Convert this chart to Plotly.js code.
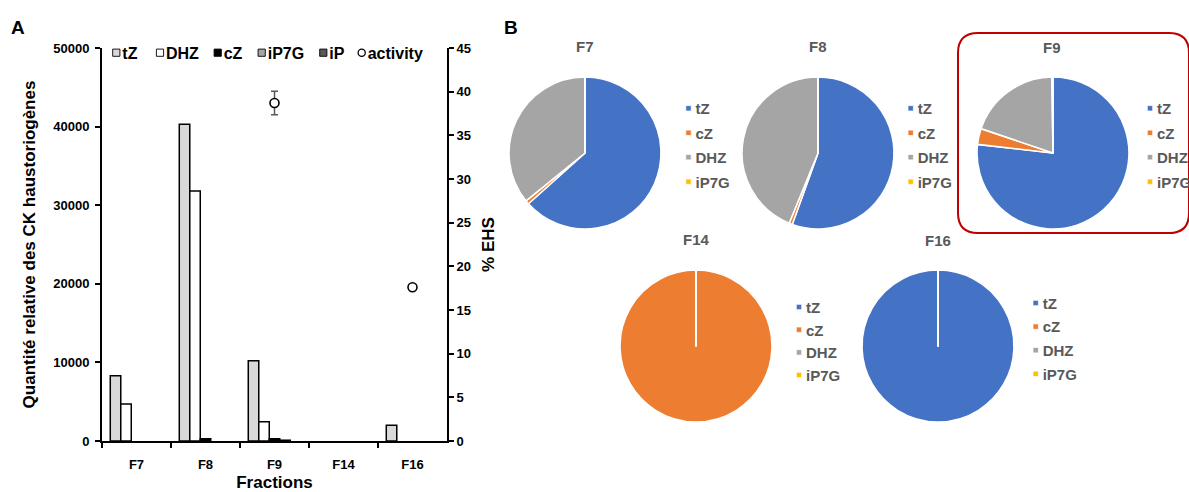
<!DOCTYPE html>
<html><head><meta charset="utf-8">
<script src="https://cdn.plot.ly/plotly-3.0.1.min.js"></script>
<style>html,body{margin:0;padding:0;background:#fff}#chart{width:1189px;height:492px}</style>
</head><body><div id="chart"></div>
<script>
const W = 1189, H = 492;
const FONT = 'Liberation Sans, Arial, sans-serif';

// ---------- data (panel A) ----------
const fractions = ['F7', 'F8', 'F9', 'F14', 'F16'];
const tZ   = [8300, 40300, 10200, 0, 2000];
const DHZ  = [4700, 31800, 2450, 0, 0];
const cZ   = [0, 300, 300, 0, 0];
const iP7G = [0, 0, 100, 0, 0];
const iP   = [0, 0, 0, 0, 0];
const activity    = [null, null, 38.7, null, 17.6];
const activityErr = [null, null, 1.35, null, null];

// ---------- data (panel B) ----------
const pieLabels = ['tZ', 'cZ', 'DHZ', 'iP7G'];
const pieF7  = [8300, 100, 4700, 0.01];
const pieF8  = [40300, 500, 31800, 0.01];
const pieF9  = [10200, 450, 2600, 30];
const pieF14 = [0.001, 100, 0.001, 0.001];
const pieF16 = [100, 0.001, 0.001, 0.001];
const pieColors = ['#4472c4', '#ed7d31', '#a5a5a5', '#ffc000'];

const px = x => x / W, py = y => 1 - y / H;

const barSeries = [
  {name: 'tZ',   y: tZ,   color: '#d9d9d9'},
  {name: 'DHZ',  y: DHZ,  color: '#ffffff'},
  {name: 'cZ',   y: cZ,   color: '#000000'},
  {name: 'iP7G', y: iP7G, color: '#a6a6a6'},
  {name: 'iP',   y: iP,   color: '#595959'}
];

const traces = barSeries.map(s => ({
  type: 'bar', name: s.name, x: fractions, y: s.y.map(v => v === 0 ? null : v),
  marker: {color: s.color, line: {color: '#000', width: 1.5}},
  xaxis: 'x', yaxis: 'y', legend: 'legend', hoverinfo: 'skip'
}));

traces.push({
  type: 'scatter', mode: 'markers', name: 'activity', x: fractions, y: activity,
  xaxis: 'x', yaxis: 'y2', legend: 'legend', hoverinfo: 'skip',
  marker: {symbol: 'circle', size: 9, color: '#fff', line: {color: '#000', width: 1.6}},
  error_y: {type: 'data', array: activityErr, visible: true, color: '#595959', thickness: 1.5, width: 3.5}
});

function dom(cx, cy, r) { return {x: [px(cx - r), px(cx + r)], y: [py(cy + r), py(cy - r)]}; }

const pies = [
  {vals: pieF7,  c: [585, 153], leg: 'legend2', grp: 'gF7'},
  {vals: pieF8,  c: [818, 153], leg: 'legend3', grp: 'gF8'},
  {vals: pieF9,  c: [1053, 153], leg: 'legend4', grp: 'gF9'},
  {vals: pieF14, c: [696, 346], leg: 'legend5', grp: 'gF14'},
  {vals: pieF16, c: [938, 346], leg: 'legend6', grp: 'gF16'}
];
pies.forEach(p => traces.push({
  type: 'pie', labels: pieLabels, values: p.vals, sort: false, direction: 'clockwise', rotation: 0,
  marker: {colors: pieColors, line: {color: '#fff', width: 1.6}},
  textinfo: 'none', hoverinfo: 'skip', domain: dom(p.c[0], p.c[1], 76),
  legend: p.leg, legendgroup: p.grp, showlegend: true
}));

const axFont = {family: FONT, size: 13, color: '#000', weight: 'bold'};
const titleFont = {family: FONT, size: 17, color: '#000', weight: 'bold'};
const pieLegFont = {family: FONT, size: 15, color: '#595959', weight: 'bold'};
const pieLeg = (x, y) => ({x: px(x), y: py(y), xanchor: 'left', yanchor: 'top', bgcolor: 'rgba(0,0,0,0)', font: pieLegFont, orientation: 'v'});

const annot = (t, x, y, size, color) => ({text: t, x: px(x), y: py(y), xref: 'paper', yref: 'paper', showarrow: false,
  xanchor: 'center', yanchor: 'middle', font: {family: FONT, size: size, color: color, weight: 'bold'}});

const r = 20, bx0 = 958, by0 = 33, bx1 = 1189, by1 = 233;
const boxPath = `M${px(bx0 + r)},${py(by0)} L${px(bx1 - r)},${py(by0)} Q${px(bx1)},${py(by0)} ${px(bx1)},${py(by0 + r)} ` +
  `L${px(bx1)},${py(by1 - r)} Q${px(bx1)},${py(by1)} ${px(bx1 - r)},${py(by1)} L${px(bx0 + r)},${py(by1)} ` +
  `Q${px(bx0)},${py(by1)} ${px(bx0)},${py(by1 - r)} L${px(bx0)},${py(by0 + r)} Q${px(bx0)},${py(by0)} ${px(bx0 + r)},${py(by0)} Z`;

const layout = {
  width: W, height: H, margin: {l: 0, r: 0, t: 0, b: 0, autoexpand: false}, paper_bgcolor: '#fff', plot_bgcolor: 'rgba(0,0,0,0)',
  font: {family: FONT}, barmode: 'group', bargap: 0.24, bargroupgap: 0,
  xaxis: {domain: [px(102), px(447)], anchor: 'y', type: 'category', categoryarray: fractions, categoryorder: 'array',
    showline: true, linecolor: '#000', linewidth: 2, ticks: 'outside', tickson: 'boundaries', ticklen: 5, tickwidth: 2, tickcolor: '#000',
    tickfont: axFont, ticklabelstandoff: 10, showgrid: false, zeroline: false, fixedrange: true,
    title: {text: 'Fractions', font: titleFont, standoff: 6}},
  yaxis: {domain: [py(441), py(48)], anchor: 'x', range: [0, 50000], dtick: 10000, tickformat: 'd', showline: true, linecolor: '#000', linewidth: 2,
    ticks: 'outside', ticklen: 5, tickwidth: 2, tickcolor: '#000', tickfont: axFont, ticklabelstandoff: 3, showgrid: false, zeroline: false, fixedrange: true,
    title: {text: 'Quantité relative des CK haustoriogènes', font: titleFont, standoff: 13}},
  yaxis2: {overlaying: 'y', side: 'right', anchor: 'x', range: [0, 45], dtick: 5, showline: true, linecolor: '#000', linewidth: 2,
    ticks: 'outside', ticklen: 5, tickwidth: 2, tickcolor: '#000', tickfont: axFont, showgrid: false, zeroline: false, fixedrange: true,
    title: {text: '% EHS', font: titleFont, standoff: 12}},
  legend: {orientation: 'h', x: px(105), y: py(40), xanchor: 'left', yanchor: 'top', bgcolor: 'rgba(0,0,0,0)',
    font: {family: FONT, size: 16, color: '#000', weight: 'bold'}},
  legend2: pieLeg(680, 95), legend3: pieLeg(902, 95), legend4: pieLeg(1095, 95),
  legend5: pieLeg(791, 295), legend6: pieLeg(1028, 291),
  annotations: [
    annot('A', 18, 28, 19, '#000'), annot('B', 511, 28, 19, '#000'),
    annot('F7', 585, 46, 15, '#595959'), annot('F8', 818, 46, 15, '#595959'), annot('F9', 1052, 47, 15, '#595959'),
    annot('F14', 696, 239, 15, '#595959'), annot('F16', 938, 241, 15, '#595959')
  ],
  shapes: [{type: 'path', xref: 'paper', yref: 'paper', path: boxPath, line: {color: '#c00000', width: 2}}],
  showlegend: true
};

function placeLegendEl(leg, items) {
  leg.querySelectorAll('[clip-path]').forEach(e => e.removeAttribute('clip-path'));
  const trs = leg.querySelectorAll('g.traces');
  trs.forEach((tr, i) => {
    const it = items[i]; if (!it) return;
    const layers = tr.querySelector('g.layers');
    if (layers) {
      layers.removeAttribute('transform');
      const bb = layers.getBBox();
      const cx = bb.x + bb.width / 2, cy = bb.y + bb.height / 2;
      layers.setAttribute('transform', `translate(${-cx * it.s},${-cy * it.s}) scale(${it.s})`);
    }
    const m = tr.getCTM();
    const t = tr.transform.baseVal.consolidate();
    const ox = t ? t.matrix.e : 0, oy = t ? t.matrix.f : 0;
    tr.setAttribute('transform', `translate(${ox + it.sx - m.e},${oy + it.sy - m.f})`);
    const txt = tr.querySelector('text');
    if (txt) {
      const tb = txt.getBBox();
      const cur = txt.transform.baseVal.consolidate();
      const cx0 = cur ? cur.matrix.e : 0, cy0 = cur ? cur.matrix.f : 0;
      txt.setAttribute('transform', `translate(${cx0 + (it.tx - it.sx) - (tb.x + cx0)},${cy0})`);
    }
  });
}

function findLegends(gd) {
  const set = new Set();
  gd.querySelectorAll('g.traces').forEach(tr => {
    let p = tr.parentNode;
    while (p && p !== gd) {
      if (p.parentNode && p.parentNode.classList && p.parentNode.classList.contains('infolayer')) { set.add(p); break; }
      p = p.parentNode;
    }
  });
  return Array.from(set);
}

const gd = document.getElementById('chart');
Plotly.newPlot(gd, traces, layout, {staticPlot: true, displayModeBar: false}).then(() => {
  const barSx = [116.3, 160, 217.7, 261.7, 323.3, 361.7];
  const targets = [
    {sx: barSx[0], y0: 52.7, items: barSx.map((x, i) => ({sx: x, sy: 52.7, tx: x + 6, s: i === 5 ? 0.8 : 0.6}))}
  ];
  const pieLegPos = [
    {sx: 688.5, tx: 695.5, ys: [108.3, 132.8, 157.2, 181.7]},
    {sx: 910.7, tx: 917.7, ys: [108.3, 132.8, 157.2, 181.7]},
    {sx: 1150, tx: 1157, ys: [108.3, 132.8, 157.2, 181.7]},
    {sx: 799, tx: 806, ys: [307, 329.7, 352.4, 375]},
    {sx: 1035.7, tx: 1042.7, ys: [303, 326.6, 350.2, 373.8]}
  ];
  pieLegPos.forEach(L => targets.push({sx: L.sx, y0: L.ys[0], items: L.ys.map(y => ({sx: L.sx, sy: y, tx: L.tx, s: 0.45}))}));
  const legs = findLegends(gd);
  const used = new Set();
  legs.forEach(leg => {
    const first = leg.querySelector('g.traces');
    const m = first.getCTM();
    let best = -1, bd = Infinity;
    targets.forEach((T, k) => {
      if (used.has(k)) return;
      const d = Math.hypot(m.e - T.sx, m.f - T.y0);
      if (d < bd) { bd = d; best = k; }
    });
    if (best >= 0) { used.add(best); placeLegendEl(leg, targets[best].items); }
  });
});
</script>
</body></html>
